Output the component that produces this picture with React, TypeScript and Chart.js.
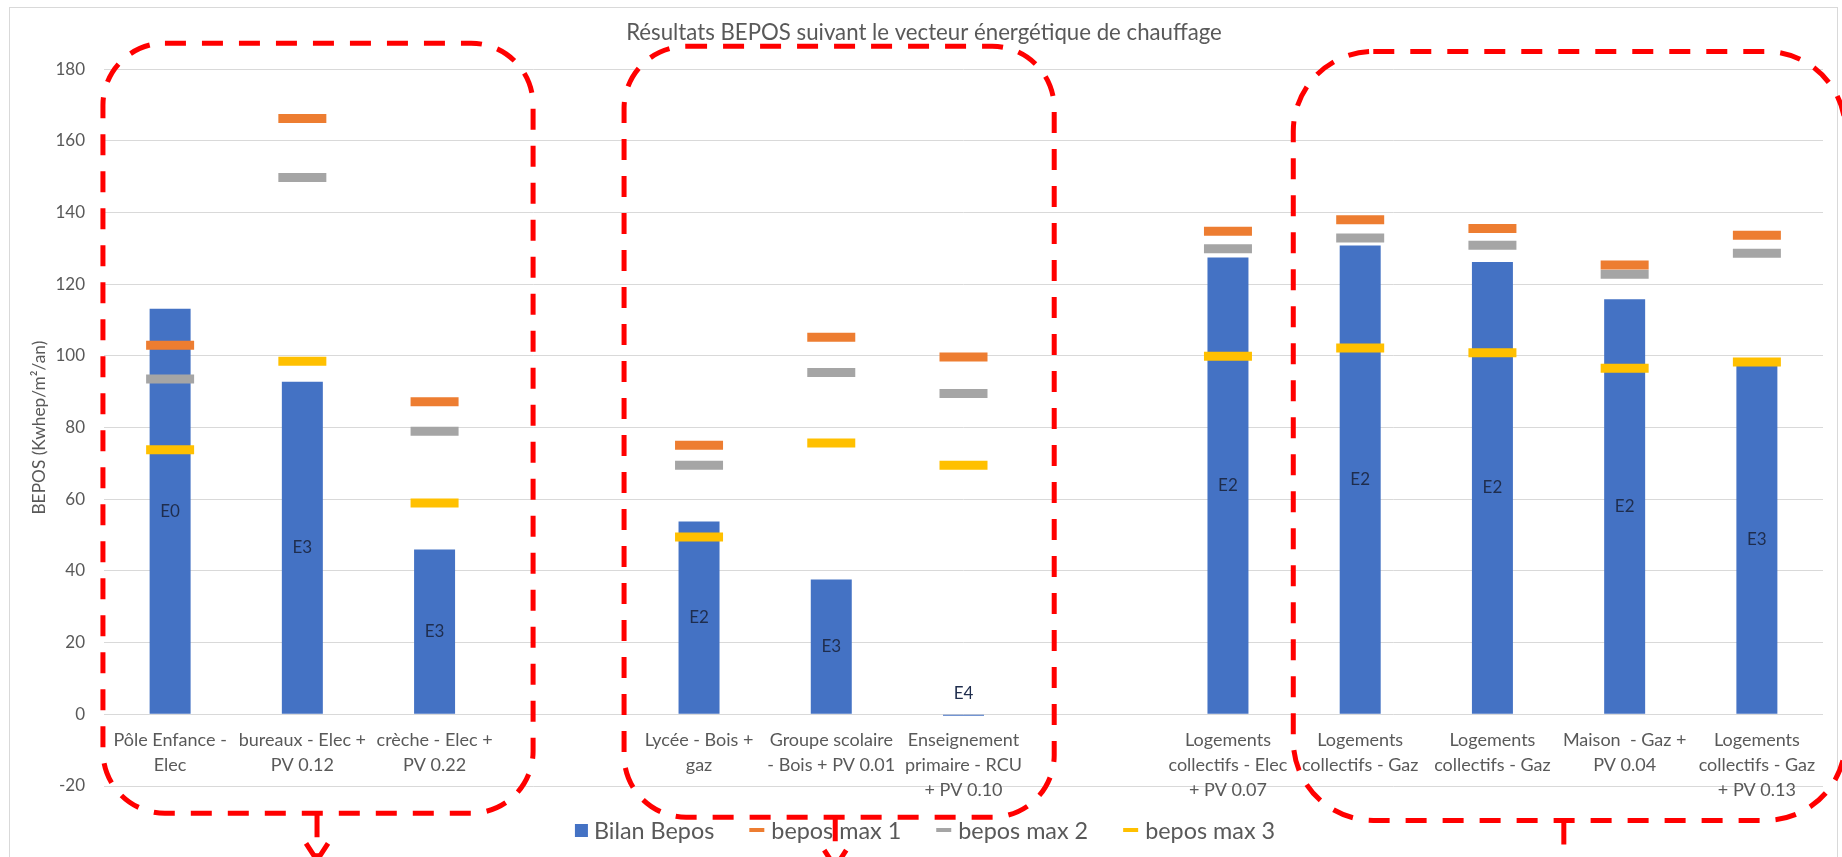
import React, { useEffect, useRef } from "react";
import { Chart, registerables } from "chart.js";

Chart.register(...registerables);

// ---------------- data ----------------
const TITLE = "Résultats BEPOS suivant le vecteur énergétique de chauffage";
const Y_TITLE = "BEPOS (Kwhep/m²/an)";

const CATEGORIES: (string | string[])[] = [
  ["Pôle Enfance -", "Elec"],
  ["bureaux - Elec +", "PV 0.12"],
  ["crèche - Elec +", "PV 0.22"],
  "",
  ["Lycée - Bois +", "gaz"],
  ["Groupe scolaire", "- Bois + PV 0.01"],
  ["Enseignement", "primaire - RCU", "+ PV 0.10"],
  "",
  ["Logements", "collectifs - Elec", "+ PV 0.07"],
  ["Logements", "collectifs - Gaz"],
  ["Logements", "collectifs - Gaz"],
  ["Maison  - Gaz +", "PV 0.04"],
  ["Logements", "collectifs - Gaz", "+ PV 0.13"],
];

const SERIES_NAMES = ["Bilan Bepos", "bepos max 1", "bepos max 2", "bepos max 3"];

const BILAN_BEPOS = [113.2, 92.8, 46.0, null, 53.8, 37.6, -0.4, null, 127.5, 130.8, 126.2, 115.8, 97.2];
const BEPOS_MAX_1 = [103.0, 166.3, 87.2, null, 75.1, 105.2, 99.7, null, 134.8, 138.0, 135.6, 125.4, 133.7];
const BEPOS_MAX_2 = [93.6, 149.8, 79.0, null, 69.5, 95.4, 89.5, null, 129.9, 132.9, 130.9, 122.8, 128.7];
const BEPOS_MAX_3 = [73.8, 98.5, 59.0, null, 49.5, 75.7, 69.5, null, 99.9, 102.2, 100.9, 96.6, 98.3];

const CLASS_LABELS = ["E0", "E3", "E3", null, "E2", "E3", "E4", null, "E2", "E2", "E2", "E2", "E3"];

const Y_MIN = -20;
const Y_MAX = 180;
const Y_STEP = 20;

// annotation groups (red dashed frames), in category-index / value units
const GROUP_FRAMES = [
  { from: -0.508, to: 2.745, top: 187.3, bottom: -27.6, r: 62 },
  { from: 3.433, to: 6.686, top: 186.4, bottom: -28.7, r: 62 },
  { from: 8.494, to: 12.67, top: 185.0, bottom: -29.6, r: 80 },
];
const GROUP_ARROWS = [
  { at: 1.111, from: -27.6, head: -36.0 },
  { at: 5.03, from: -28.7, head: -37.9 },
  { at: 10.54, from: -29.6, head: null as number | null },
];

// ---------------- styles ----------------
const FONT = "Lato, 'Open Sans', sans-serif";
const TEXT = "#595959";
const COLORS = ["#4472C4", "#ED7D31", "#A5A5A5", "#FFC000"];

function fitSize(text: string, target: number): number {
  const c = document.createElement("canvas").getContext("2d");
  if (!c) return 16;
  c.font = `100px ${FONT}`;
  const w = c.measureText(text).width;
  return w > 0 ? (100 * target) / w : 16;
}

const framePlugin = {
  id: "frame",
  beforeDraw(chart: any) {
    const { ctx } = chart;
    ctx.save();
    ctx.fillStyle = "#ffffff";
    ctx.fillRect(0, 0, chart.width, chart.height);
    ctx.strokeStyle = "#d9d9d9";
    ctx.lineWidth = 1;
    ctx.strokeRect(9.5, 7.5, 1828, 900);
    ctx.restore();
  },
};

const classLabelPlugin = {
  id: "classLabels",
  afterDatasetsDraw(chart: any) {
    const { ctx } = chart;
    const meta = chart.getDatasetMeta(0);
    ctx.save();
    ctx.font = `17px ${FONT}`;
    ctx.fillStyle = "#1f2d4d";
    ctx.textAlign = "center";
    ctx.textBaseline = "middle";
    meta.data.forEach((el: any, i: number) => {
      const t = CLASS_LABELS[i];
      if (!t) return;
      const { x, y, base } = el.getProps(["x", "y", "base"], true);
      const h = Math.abs(base - y);
      const ty = h > 30 ? (y + base) / 2 : Math.min(y, base) - 21;
      ctx.fillText(t, x, ty);
    });
    ctx.restore();
  },
};

function makeLegendPlugin(fontSize: number) {
  return {
    id: "customLegend",
    afterDraw(chart: any) {
      const { ctx } = chart;
      const ds = chart.data.datasets;
      ctx.save();
      ctx.font = `${fontSize}px ${FONT}`;
      ctx.textBaseline = "middle";
      ctx.textAlign = "left";
      const cy = 830;
      const items = ds.map((d: any) => {
        const isBar = d.type === "bar";
        const mw = isBar ? 13 : 15;
        const gap = isBar ? 6 : 7;
        const tw = ctx.measureText(d.label).width;
        return { d, isBar, mw, gap, tw, w: mw + gap + tw };
      });
      const spacing = 35;
      const total = items.reduce((s: number, it: any) => s + it.w, 0) + spacing * (items.length - 1);
      let x = 925 - total / 2;
      items.forEach((it: any) => {
        const color = it.isBar ? it.d.backgroundColor : it.d.pointBorderColor;
        ctx.fillStyle = color;
        if (it.isBar) ctx.fillRect(x, cy - 6, 13, 13);
        else ctx.fillRect(x, cy - 2, 15, 4);
        ctx.fillStyle = TEXT;
        ctx.fillText(it.d.label, x + it.mw + it.gap, cy + 1);
        x += it.w + spacing;
      });
      ctx.restore();
    },
  };
}

const annotationPlugin = {
  id: "groupFrames",
  afterDraw(chart: any) {
    const { ctx } = chart;
    const xs = chart.scales.x;
    const ys = chart.scales.y;
    ctx.save();
    ctx.strokeStyle = "#ff0000";
    ctx.lineWidth = 5;
    ctx.lineCap = "butt";
    ctx.setLineDash([21, 16]);
    GROUP_FRAMES.forEach((f) => {
      const l = xs.getPixelForValue(f.from);
      const r = xs.getPixelForValue(f.to);
      const t = ys.getPixelForValue(f.top);
      const b = ys.getPixelForValue(f.bottom);
      ctx.beginPath();
      ctx.roundRect(l, t, r - l, b - t, f.r);
      ctx.stroke();
    });
    ctx.setLineDash([24, 16]);
    GROUP_ARROWS.forEach((a) => {
      const x = xs.getPixelForValue(a.at);
      const y0 = ys.getPixelForValue(a.from);
      ctx.beginPath();
      ctx.moveTo(x, y0);
      ctx.lineTo(x, chart.height + 30);
      ctx.stroke();
    });
    ctx.setLineDash([]);
    GROUP_ARROWS.forEach((a) => {
      if (a.head === null) return;
      const x = xs.getPixelForValue(a.at);
      const yh = ys.getPixelForValue(a.head);
      ctx.beginPath();
      ctx.moveTo(x - 11, yh);
      ctx.lineTo(x, yh + 17);
      ctx.lineTo(x + 11, yh);
      ctx.stroke();
    });
    ctx.restore();
  },
};

function markerDataset(label: string, data: (number | null)[], color: string) {
  return {
    type: "line" as const,
    label,
    data,
    showLine: false,
    pointStyle: "line",
    pointRadius: 24,
    pointHoverRadius: 24,
    pointBorderWidth: 9,
    pointHoverBorderWidth: 9,
    pointBorderColor: color,
    pointBackgroundColor: color,
    borderColor: color,
    backgroundColor: color,
    clip: false,
    order: 0,
  };
}

export default function App() {
  const canvasRef = useRef<HTMLCanvasElement | null>(null);

  useEffect(() => {
    document.body.style.margin = "0";
    document.body.style.background = "#ffffff";
    const canvas = canvasRef.current;
    if (!canvas) return;

    const titleSize = Math.min(26, Math.max(16, fitSize(TITLE, 596)));
    const yTitleSize = Math.min(26, Math.max(14, fitSize(Y_TITLE, 174)));
    const legendSize = Math.min(26, Math.max(16, fitSize(SERIES_NAMES[1], 130)));
    const padLeft = 25;
    const yTitlePad = Math.max(0, 39 - padLeft - yTitleSize * 0.6);

    const chart = new Chart(canvas, {
      type: "bar",
      data: {
        labels: CATEGORIES as any,
        datasets: [
          {
            type: "bar",
            label: SERIES_NAMES[0],
            data: BILAN_BEPOS,
            backgroundColor: COLORS[0],
            barPercentage: 0.31,
            categoryPercentage: 1,
            order: 1,
          },
          markerDataset(SERIES_NAMES[1], BEPOS_MAX_1, COLORS[1]),
          markerDataset(SERIES_NAMES[2], BEPOS_MAX_2, COLORS[2]),
          markerDataset(SERIES_NAMES[3], BEPOS_MAX_3, COLORS[3]),
        ] as any,
      },
      options: {
        responsive: false,
        animation: false,
        layout: { autoPadding: false, padding: { left: padLeft, right: 19, top: 0, bottom: 71 } },
        plugins: {
          legend: { display: false },
          tooltip: { enabled: false },
          title: {
            display: true,
            text: TITLE,
            color: TEXT,
            font: { family: FONT, size: titleSize, weight: "normal" as any, lineHeight: "24px" as any },
            padding: { top: 21, bottom: 24.3 },
          },
        },
        scales: {
          x: {
            type: "category",
            position: { y: 0 } as any,
            offset: true,
            grid: { display: false, drawTicks: true, tickLength: 13.5 },
            border: { display: false },
            ticks: {
              autoSkip: false,
              maxRotation: 0,
              minRotation: 0,
              padding: 0,
              color: TEXT,
              font: { family: FONT, size: 18, lineHeight: "25px" as any },
            },
            afterFit: (s: any) => {
              s.paddingLeft = 0;
              s.paddingRight = 0;
            },
          },
          y: {
            min: Y_MIN,
            max: Y_MAX,
            ticks: {
              stepSize: Y_STEP,
              padding: 19,
              color: TEXT,
              font: { family: FONT, size: 17 },
            },
            grid: { color: "#d9d9d9", drawTicks: false, lineWidth: 1 },
            border: { display: false },
            title: {
              display: true,
              text: Y_TITLE,
              color: TEXT,
              font: { family: FONT, size: yTitleSize },
              padding: { top: yTitlePad, bottom: 0 },
            },
            afterFit: (s: any) => {
              s.width = 104 - padLeft;
            },
          },
        },
      },
      plugins: [framePlugin, classLabelPlugin, annotationPlugin, makeLegendPlugin(legendSize)],
    });
    return () => chart.destroy();
  }, []);

  return (
    <div style={{ position: "fixed", left: 0, top: 0, width: 1842, height: 857, background: "#fff" }}>
      <canvas ref={canvasRef} width={1842} height={857} style={{ display: "block" }} />
    </div>
  );
}
